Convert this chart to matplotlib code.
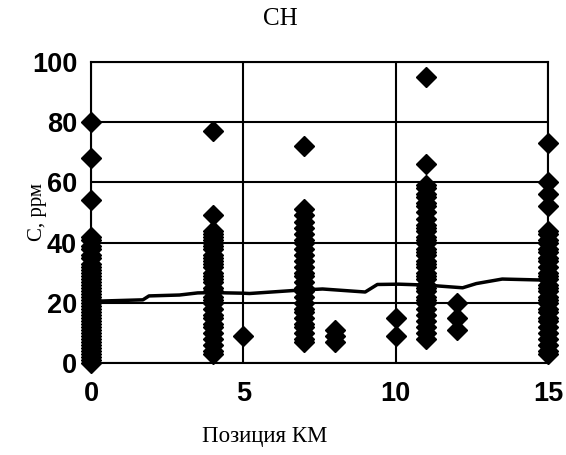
import matplotlib
matplotlib.use("Agg")
import matplotlib.pyplot as plt

# measured concentrations at each position (km)
km0 = [0, 1, 2, 3, 4, 5, 6, 7, 8, 9, 10, 11, 12, 13, 14, 15, 16, 17, 18, 19,
       20, 21, 22, 23, 24, 25, 26, 27, 28, 29, 30, 31, 32, 33, 35, 36, 38,
       39, 41, 42, 54, 68, 80]
km4 = [3, 4, 6, 8, 10, 12, 13, 15, 16, 18, 20, 21, 22, 24, 25, 27, 28, 29,
       30, 32, 33, 34, 35, 36, 38, 39, 40, 41, 42, 43, 44, 49, 77]
km5 = [9]
km7 = [7, 8, 10, 12, 13, 15, 17, 18, 20, 22, 24, 25, 27, 29, 30, 32, 34,
       36, 38, 40, 41, 43, 45, 47, 49, 51, 72]
km8 = [7, 9, 11]
km10 = [9, 15]
km11 = [8, 10, 12, 14, 16, 18, 20, 21, 22, 24, 25, 26, 28, 29, 30, 32, 33,
        34, 36, 37, 38, 40, 41, 42, 44, 45, 46, 48, 50, 52, 53, 55, 56, 58,
        59, 66, 95]
km12 = [11, 15, 20]
km15 = [3, 4, 6, 8, 10, 12, 14, 15, 17, 18, 20, 21, 22, 24, 25, 26, 28,
        29, 30, 32, 34, 35, 37, 38, 40, 41, 43, 44, 52, 56, 60, 73]

positions = [0, 4, 5, 7, 8, 10, 11, 12, 15]
samples = [km0, km4, km5, km7, km8, km10, km11, km12, km15]

# background level line
line_km = [0, 1.7, 1.9, 2.9, 3.5, 4, 5, 5.2, 6.8, 7.6, 9.0, 9.4, 10.1, 11,
           12.2, 12.65, 13.5, 14.7, 15]
line_c = [20.5, 21, 22.3, 22.6, 23.3, 23.4, 23.2, 23.1, 24.2, 24.6, 23.6,
          26.1, 26.2, 25.9, 25.0, 26.4, 27.9, 27.6, 27.6]

fig = plt.figure(figsize=(5.66, 4.55), dpi=100)
ax = fig.add_axes([0.161, 0.202, 0.807, 0.662])

for p, vals in zip(positions, samples):
    ax.plot([p] * len(vals), vals, linestyle="none", marker="D",
            markersize=10.5, color="black", clip_on=False, zorder=3)

ax.plot(line_km, line_c, color="black", linewidth=2.5, zorder=2)

ax.set_xlim(0, 15)
ax.set_ylim(0, 100)
ax.set_xticks([0, 5, 10, 15])
ax.set_yticks([0, 20, 40, 60, 80, 100])
ax.grid(True, color="black", linewidth=1.5)
for s in ax.spines.values():
    s.set_linewidth(1.5)
ax.tick_params(length=0)
ax.tick_params(axis="x", pad=13)
ax.tick_params(axis="y", pad=10)
for lab in ax.get_xticklabels() + ax.get_yticklabels():
    lab.set_fontfamily("Liberation Sans")
    lab.set_fontweight("bold")
    lab.set_fontsize(19.5)

fig.text(0.495, 0.958, "CH", ha="center", va="center",
         family="Liberation Serif", fontsize=18)
fig.text(0.468, 0.04, "Позиция КМ", ha="center", va="center",
         family="Liberation Serif", fontsize=16.5)
fig.text(0.067, 0.535, "С, ррм", ha="center", va="center", rotation=90,
         family="Liberation Serif", fontsize=15)

fig.savefig("out.png", dpi=100, facecolor="white")
